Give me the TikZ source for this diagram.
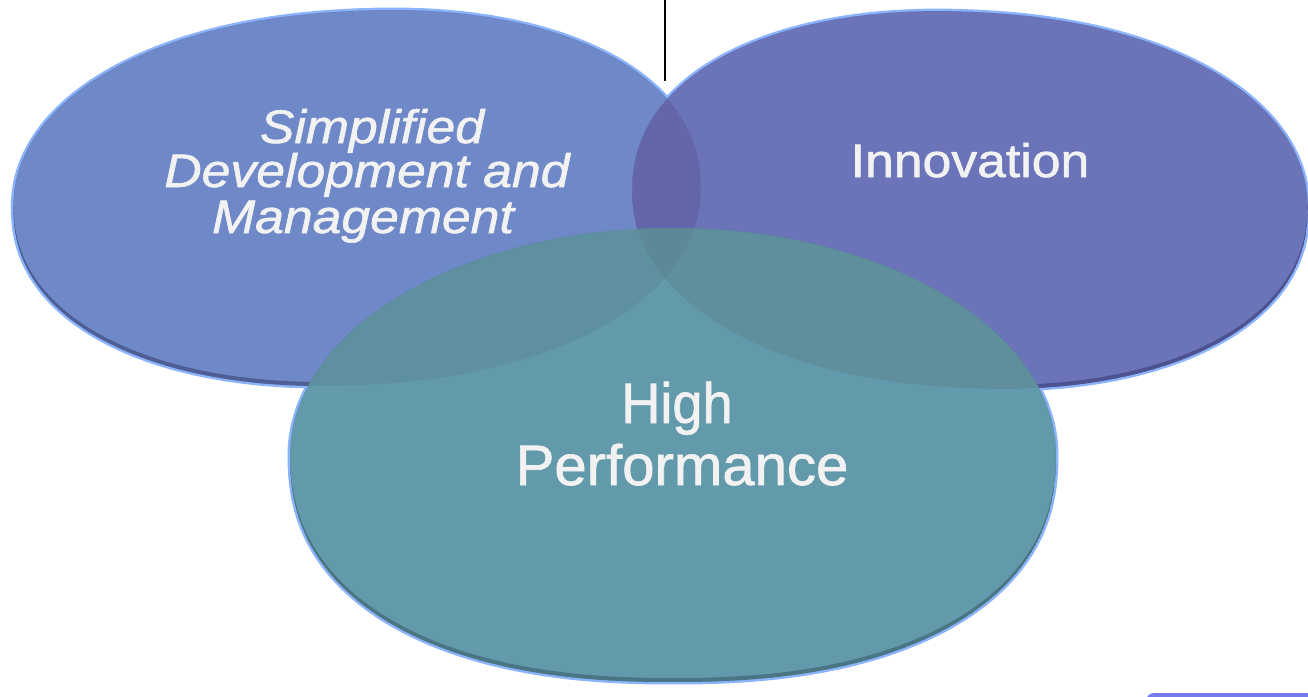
\documentclass[tikz,border=0pt]{standalone}
\usepackage{fontspec}
\setmainfont{Liberation Sans}
\newfontfamily\lblfont[FakeBold=1.2]{Liberation Sans}
\definecolor{cL}{HTML}{6F89C8}
\definecolor{cR}{HTML}{6B74B9}
\definecolor{cLR}{HTML}{6466A9}
\definecolor{cB}{HTML}{639AAB}
\definecolor{cBL}{HTML}{5E909F}
\definecolor{cBR}{HTML}{5F8E9C}
\definecolor{cBLR}{HTML}{5D8898}
\definecolor{halo}{HTML}{8CB4FC}
\definecolor{rimL}{HTML}{4F5F96}
\definecolor{rimR}{HTML}{4D5290}
\definecolor{rimB}{HTML}{4A7585}
\definecolor{txt}{HTML}{F2F2F2}
\definecolor{tabc}{HTML}{7878F0}
\tikzset{
  supel/.style n args={6}{insert path={plot[smooth cycle, variable=\t, domain=2:357, samples=72]
    ({#1 + #3*cos(\t)*abs(cos(\t))^(2/#6-1)*cos(#5) - #4*sin(\t)*abs(sin(\t))^(2/#6-1)*sin(#5)},
     {#2 + #3*cos(\t)*abs(cos(\t))^(2/#6-1)*sin(#5) + #4*sin(\t)*abs(sin(\t))^(2/#6-1)*cos(#5)})}},
  egg/.style n args={4}{insert path={plot[smooth cycle, variable=\t, domain=2:357, samples=72]
    ({#1 + #3*cos(\t)*abs(cos(\t))^(2/(2+0.3*(sin(\t)>0))-1)},
     {#2 + #4*sin(\t)*abs(sin(\t))^(2/(2+0.3*(sin(\t)>0))-1)})}},
  shL/.style={supel={357}{198}{344}{187}{-3}{2.15}},
  shLup/.style={supel={357}{194}{344}{187}{-3}{2.15}},
  shR/.style={supel={970}{200}{338}{188}{2.9}{2.15}},
  shRup/.style={supel={970}{196}{338}{188}{2.9}{2.15}},
  shB/.style={egg={673}{455}{383}{227}},
  shBup/.style={egg={673}{451}{383}{227}},
  lbl/.style={text=txt, inner sep=0pt, anchor=base},
  haloline/.style={draw=halo, fill=halo, line width=5pt, line join=round}
}
\begin{document}
\begin{tikzpicture}[x=1pt,y=-1pt]
\useasboundingbox (0,0) rectangle (1308,696);
% halo behind all discs
\path[haloline, shL];
\path[haloline, shR];
\path[haloline, shB];
% upper discs
\fill[cL, shL];
\fill[cR, shR];
\begin{scope}
  \clip[shL];
  \fill[rimL, even odd rule, shL, shLup];
\end{scope}
\begin{scope}
  \clip[shR];
  \fill[rimR, even odd rule, shR, shRup];
\end{scope}
\begin{scope}
  \clip[shL];
  \fill[cLR, shR];
\end{scope}
% bottom disc
\fill[cB, shB];
\begin{scope}
  \clip[shB];
  \fill[cBL, shL];
  \fill[cBR, shR];
  \clip[shL];
  \fill[cBLR, shR];
\end{scope}
\begin{scope}
  \clip[shB];
  \fill[rimB, even odd rule, shB, shBup];
\end{scope}
% partial tab at lower right
\fill[tabc, rounded corners=8pt] (1146,693) rectangle (1340,740);
% vertical line
\coordinate (ltop) at (665,0);
\coordinate (lend) at (665,81);
\draw[line width=2pt, black] (ltop) -- (lend);
% labels
\begin{scope}[font=\lblfont\fontsize{47}{47}\selectfont\itshape]
  \node[lbl] (s1) at (372,143) {\scalebox{1.1}[1]{Simplified}};
  \node[lbl] (s2) at (367,187) {\scalebox{1.1}[1]{Development and}};
  \node[lbl] (s3) at (363,233) {\scalebox{1.1}[1]{Management}};
\end{scope}
\node[lbl, font=\lblfont\fontsize{47}{47}\selectfont] (inn) at (970,177) {\scalebox{1.1}[1]{Innovation}};
\begin{scope}[font=\lblfont\fontsize{57}{57}\selectfont]
  \node[lbl] (h1) at (677,423) {\scalebox{0.95}[1]{High}};
  \node[lbl] (h2) at (682,485) {\scalebox{1.02}[1]{Performance}};
\end{scope}
\end{tikzpicture}
\end{document}
